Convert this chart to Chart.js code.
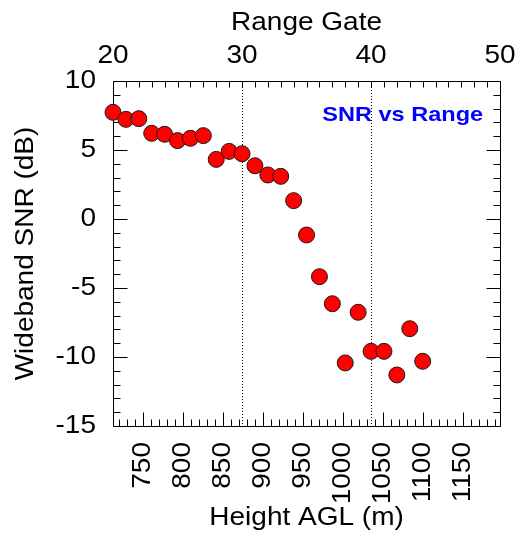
<!DOCTYPE html>
<html><head><meta charset="utf-8">
<script src="https://cdn.jsdelivr.net/npm/chart.js@4"></script>
<style>html,body{margin:0;padding:0;background:#fff}#wrap{width:524px;height:537px;position:relative}</style>
</head><body><div id="wrap"><canvas id="c"></canvas></div>
<script>
// ---- data ----
const rangeGates = [20,21,22,23,24,25,26,27,28,29,30,31,32,33,34,35,36,37,38,39,40,41,42,43,44];
const snrDb = [7.73,7.22,7.27,6.21,6.14,5.68,5.85,6.04,4.32,4.90,4.73,3.86,3.19,3.09,1.33,-1.16,-4.18,-6.14,-10.43,-6.76,-9.59,-9.59,-11.30,-7.95,-10.31];
const gateTicks = [20,30,40,50];
const heightTicks = [750,800,850,900,950,1000,1050,1100,1150];
const snrTicks = [-15,-10,-5,0,5,10];
const dottedGates = [30,40];
const gateRange = [20,50];
const heightRange = [712.8,1196.7];
const snrRange = [-15,10];
const annotationText = 'SNR vs Range';
const axisTitles = {top:'Range Gate', bottom:'Height AGL (m)', left:'Wideband SNR (dB)'};

const FAMILY = "'Liberation Sans', Arial, Helvetica, sans-serif";
const STRETCH = 1.12;
Chart.defaults.font.family = FAMILY;
const f25 = {family:FAMILY, size:25, weight:'normal'};

const stretchPlugin = {
  id:'stretchText',
  beforeInit(chart){
    const ctx = chart.ctx;
    const orig = ctx.fillText.bind(ctx);
    ctx.fillText = function(text, x, y, maxWidth){
      ctx.save();
      ctx.translate(x, y);
      ctx.scale(STRETCH, 1);
      if (maxWidth !== undefined && maxWidth !== null) orig(text, 0, 0, maxWidth / STRETCH);
      else orig(text, 0, 0);
      ctx.restore();
    };
  }
};

const px = v => Math.round(v) + 0.5;

const framePlugin = {
  id:'frame',
  beforeDatasetsDraw(chart){
    const {ctx, chartArea:a, scales} = chart;
    const xs = scales.x, hs = scales.x2, ys = scales.y;
    const L = px(a.left), R = px(a.right), T = px(a.top), B = px(a.bottom);
    ctx.save();
    ctx.strokeStyle = '#000';
    ctx.lineWidth = 1;
    // dotted gate markers
    ctx.setLineDash([1,2]);
    ctx.beginPath();
    for (const g of dottedGates){ const X = px(xs.getPixelForValue(g)); ctx.moveTo(X, Math.round(a.top)); ctx.lineTo(X, Math.round(a.bottom)); }
    ctx.stroke();
    ctx.setLineDash([]);
    // frame
    ctx.beginPath();
    ctx.moveTo(L, T); ctx.lineTo(R, T); ctx.lineTo(R, B); ctx.lineTo(L, B); ctx.closePath();
    // y ticks (both sides)
    for (let v = snrRange[0]; v <= snrRange[1]; v += 1){
      const Y = px(ys.getPixelForValue(v));
      const len = (v % 5 === 0) ? 14 : 7;
      ctx.moveTo(L, Y); ctx.lineTo(L + len, Y);
      ctx.moveTo(R, Y); ctx.lineTo(R - len, Y);
    }
    // top gate ticks
    for (let g = gateRange[0]; g <= gateRange[1]; g += 1){
      const X = px(xs.getPixelForValue(g));
      ctx.moveTo(X, T); ctx.lineTo(X, T + 6);
    }
    // bottom height ticks
    for (let h = Math.ceil(heightRange[0]/10)*10; h <= heightRange[1]; h += 10){
      const X = px(hs.getPixelForValue(h));
      const len = (h % 50 === 0) ? 14 : 7;
      ctx.moveTo(X, B); ctx.lineTo(X, B - len);
    }
    ctx.stroke();
    ctx.restore();
  },
  afterDatasetsDraw(chart){
    const {ctx, chartArea:a} = chart;
    ctx.save();
    ctx.font = "bold 21px " + FAMILY;
    ctx.fillStyle = '#0000ff';
    ctx.textAlign = 'right';
    ctx.textBaseline = 'middle';
    ctx.fillText(annotationText, a.right - 17, a.top + 34);
    ctx.restore();
  }
};

const fixedTicks = arr => s => { s.ticks = arr.map(v => ({value:v})); };

new Chart(document.getElementById('c'), {
  type:'scatter',
  data:{datasets:[{
    data: rangeGates.map((g,i) => ({x:g, y:snrDb[i]})),
    xAxisID:'x', yAxisID:'y',
    pointRadius:8, pointHoverRadius:8,
    pointBackgroundColor:'#ff0000', pointBorderColor:'#1a1a1a', pointBorderWidth:1,
    showLine:false, clip:false
  }]},
  options:{
    responsive:true, maintainAspectRatio:false, animation:false, devicePixelRatio:1,
    events:[],
    layout:{padding:{left:0,right:17,top:0,bottom:0}},
    plugins:{legend:{display:false}, tooltip:{enabled:false}},
    scales:{
      x:{type:'linear', position:'top', min:gateRange[0], max:gateRange[1],
        afterBuildTicks: fixedTicks(gateTicks),
        afterFit: s => { s.height = 81; },
        grid:{display:false, drawTicks:false}, border:{display:false},
        ticks:{font:f25, color:'#000', padding:10, maxRotation:0, minRotation:0, autoSkip:false, callback:v => String(v)},
        title:{display:true, text:axisTitles.top, font:f25, color:'#000', padding:{top:8,bottom:0}}
      },
      x2:{type:'linear', position:'bottom', min:heightRange[0], max:heightRange[1],
        afterBuildTicks: fixedTicks(heightTicks),
        afterFit: s => { s.height = 111; },
        grid:{display:false, drawTicks:false}, border:{display:false},
        ticks:{font:f25, color:'#000', padding:16, maxRotation:90, minRotation:90, autoSkip:false, callback:v => String(v)},
        title:{display:true, text:axisTitles.bottom, font:f25, color:'#000', padding:{top:0,bottom:4}}
      },
      y:{type:'linear', position:'left', min:snrRange[0], max:snrRange[1],
        afterBuildTicks: fixedTicks(snrTicks),
        afterFit: s => { s.width = 113; },
        grid:{display:false, drawTicks:false}, border:{display:false},
        ticks:{font:f25, color:'#000', padding:17, autoSkip:false, callback:v => String(v)},
        title:{display:true, text:axisTitles.left, font:f25, color:'#000', padding:{top:11,bottom:0}}
      }
    }
  },
  plugins:[stretchPlugin, framePlugin]
});
</script>
</body></html>
